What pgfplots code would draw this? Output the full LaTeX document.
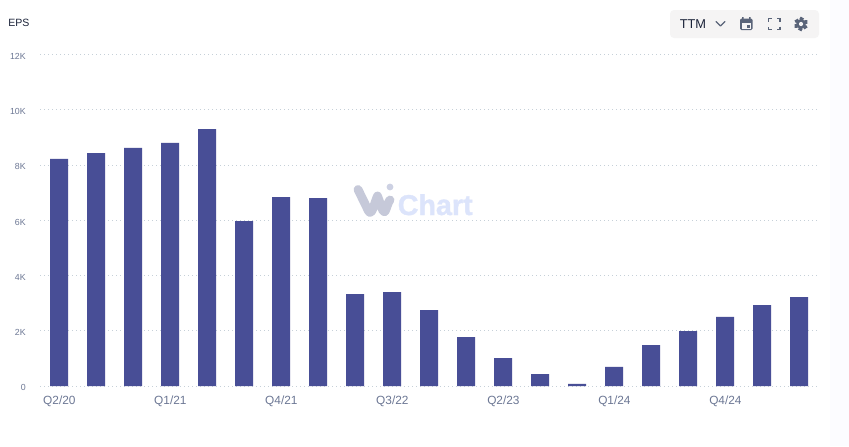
\documentclass[border=0pt]{standalone}
\usepackage{pgfplots}
\usepackage{fontspec}
\setmainfont{Liberation Sans}
\newfontfamily\wmfont[BoldFeatures={FakeBold=1.2}]{Liberation Sans}
\pgfplotsset{compat=1.18}
\definecolor{barc}{HTML}{484E96}
\definecolor{gridc}{HTML}{C6D0D8}
\definecolor{tickc}{HTML}{6C7794}
\definecolor{dark}{HTML}{1A2238}
\definecolor{iconc}{HTML}{5A6479}
\definecolor{boxc}{HTML}{F5F4F4}
\definecolor{wgray}{HTML}{C6C9D9}
\definecolor{wblue}{HTML}{DCE4FB}
\pgfplotstableread{
idx eps
0 8220
1 8430
2 8620
3 8800
4 9300
5 5970
6 6840
7 6800
8 3330
9 3400
10 2750
11 1770
12 1010
13 430
14 80
15 690
16 1480
17 1990
18 2500
19 2930
20 3220
}\epsdata
\begin{document}
\begin{tikzpicture}
\useasboundingbox (0pt,0pt) rectangle (636.75pt,-334.5pt);
\fill[white] (0pt,0pt) rectangle (636.75pt,-334.5pt);
\begin{scope}[x=0.75pt,y=-0.75pt]
\fill[black!2!blue!1!white] (830,0) rectangle (849,446);
\node[anchor=base west,inner sep=0pt,font=\fontsize{7.9pt}{9pt}\selectfont,text=dark] at (8,26.5) {EPS};
\fill[boxc,rounded corners=3pt] (670,10) rectangle (819,38);
\node[anchor=base west,inner sep=0pt,font=\fontsize{9.6pt}{11pt}\selectfont,text=dark] at (679.5,28.5) {TTM};
\draw[iconc,line width=0.9pt,line cap=round,line join=round] (716,21.5) -- (720.5,26) -- (725,21.5);
\fill[iconc,rounded corners=1pt] (740,18.5) rectangle (752.5,30);
\fill[boxc] (741.5,23) rectangle (751,28.5);
\fill[iconc] (746.5,24.5) rectangle (750,28);
\fill[iconc] (742,17) rectangle (743.5,19) (749,17) rectangle (750.5,19);
\draw[iconc,line width=1.1pt] (768.5,21.5) -- (768.5,18.5) -- (771.5,18.5)
 (777,18.5) -- (780,18.5) -- (780,21.5)
 (780,26.5) -- (780,29.5) -- (777,29.5)
 (771.5,29.5) -- (768.5,29.5) -- (768.5,26.5);
\fill[iconc] (801,24) circle (4.8);
\foreach \a in {0,60,...,300}{\fill[iconc] (801,24) ++(\a-18:6.6) -- ++(\a+90:1.9) -- ++(\a+180:3) -- ++(\a-90:3.8) -- ++(\a:3) -- cycle;}
\fill[boxc] (801,24) circle (2.1);
\end{scope}
\begin{axis}[
  at={(30pt,-289.5pt)},anchor=south west,
  scale only axis,width=582.75pt,height=248.625pt,
  xmin=-0.5135,xmax=20.486,ymin=0,ymax=12000,
  scaled y ticks=false,
  axis line style={draw=none},
  major tick length=0pt,
  tick style={draw=none},
  ymajorgrids,
  grid style={gridc,line width=0.75pt,dash pattern=on 0.75pt off 2.25pt},
  ytick={0,2000,4000,6000,8000,10000,12000},
  yticklabels={0,2K,4K,6K,8K,10K,12K},
  xtick={0,3,6,9,12,15,18},
  xticklabels={Q2/20,Q1/21,Q4/21,Q3/22,Q2/23,Q1/24,Q4/24},
  yticklabel style={font=\fontsize{6.6pt}{7pt}\selectfont,text=tickc,anchor=east,xshift=-10.5pt,yshift=-1.3pt,inner sep=0pt},
  xticklabel style={font=\fontsize{8.9pt}{10pt}\selectfont,text=tickc,anchor=base,yshift=-14.2pt,xshift=0.3pt,inner sep=0pt},
  clip=false,
]
\addplot[ybar,bar width=13.5pt,fill=barc,draw=none] table[x=idx,y=eps]{\epsdata};
\end{axis}
\begin{scope}[x=0.75pt,y=-0.75pt]
\draw[wgray,line width=6.6pt,line cap=round,line join=round] (358,189.5) -- (368.5,211) to[out=-60,in=-115] (377.5,196) -- (383,211) to[out=-60,in=-130] (390,200);
\fill[wgray!70!wblue] (390,187) circle (3.4);
\node[anchor=base west,inner sep=0pt,font=\fontsize{21.5pt}{24pt}\selectfont\wmfont\bfseries,text=wblue] at (397.5,215) {Chart};
\end{scope}
\end{tikzpicture}
\end{document}
